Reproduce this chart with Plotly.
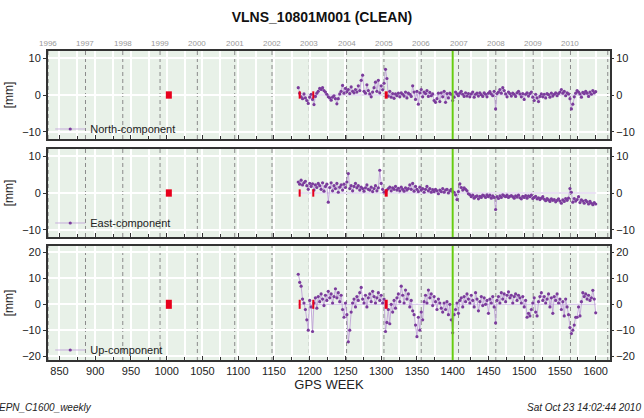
import plotly.graph_objects as go
from datetime import date

# ---------------- data ----------------
first_week = 1184
last_week = 1600
week_step = 2
weeks = list(range(first_week, last_week + 1, week_step))

north = [
    2.0, 0.5, -0.5, -1.0, 0.3, -0.8, -1.5, -2.3, -0.6, 0.2,
    -1.2, -2.6, -0.4, 0.5, 1.0, 1.8, 1.5, 2.0, 1.2, 0.8,
    0.2, -0.5, -0.8, -1.4, -0.6, -0.2, -1.0, -2.4, -1.0, 0.3,
    1.0, 2.6, 0.5, 1.8, 0.9, 1.5, 0.4, 2.2, 1.0, 0.6,
    1.5, 0.8, 2.5, 1.2, 4.0, 5.4, 1.0, 0.5, 2.8, 1.2,
    0.3, -0.5, 0.8, 2.0, 3.5, 1.0, 4.0, 0.6, 2.5, 1.4,
    3.2, 7.0, 4.5, -0.3, 1.0, -0.6, 0.4, -0.9, 0.3, -0.2,
    0.5, -0.5, 0.6, 0.2, -0.3, 0.8, -0.8, 0.5, 0.2, -0.4,
    2.5, 0.8, -1.2, 1.0, -2.5, 0.6, 1.5, -0.5, 0.8, 0.4,
    1.2, -0.4, 0.7, -0.2, 0.3, -1.5, -2.0, -1.0, 0.5, -1.8,
    0.6, -0.5, 1.0, -2.0, 0.4, -0.8, 0.5, 0.2, -1.5, -0.6,
    0.8, 0.3, -0.2, 0.5, 1.0, 0.2, -0.4, 0.6, -0.3, 0.4,
    -0.5, 0.3, 0.8, -0.6, 0.2, 0.5, -0.3, 0.6, 0.1, -0.4,
    0.6, 0.2, -0.5, 0.5, 0.9, 0.3, -0.2, 1.0, -3.8, 0.4,
    0.8, 1.5, 0.5, 2.0, 1.2, 0.3, -0.5, 0.8, 0.4, -0.3,
    0.5, 0.2, -0.4, 0.6, 1.0, 0.3, -0.5, 0.4, -1.2, 0.2,
    0.6, -0.3, 0.4, 0.8, -0.6, -1.5, 0.2, -0.8, -1.8, -0.4,
    0.3, -0.5, 0.2, -0.8, 0.4, 0.1, -0.6, 0.5, -0.3, 0.2,
    0.6, -0.2, 0.4, 0.8, 1.5, 0.5, 1.0, -0.2, 0.6, 0.3,
    -1.0, -3.8, -2.5, -0.5, 0.5, 1.2, 0.8, 0.3, -0.6, 0.7,
    0.4, 1.0, 0.5, -0.4, 0.8, 0.2, 1.2, 0.6, 0.9,
]

east = [
    3.0, 2.4, 3.5, 2.2, 2.8, 3.2, 2.0, 1.0, 2.6, 1.8,
    2.5, 0.8, 2.2, 1.5, 2.6, 2.0, 1.0, 2.8, 0.5, 1.8,
    2.4, -2.5, 1.5, 2.8, 0.6, 2.0, 1.2, 2.6, 0.2, 1.6,
    2.2, 0.8, 2.4, 1.5, 3.0, 5.3, 1.2, 2.0, 0.6, 1.8,
    2.6, 1.4, 2.0, 0.8, 1.6, 1.2, 0.5, 1.4, 2.2, 1.0,
    0.8, 1.6, 0.4, 1.2, 2.0, 0.6, 1.4, 6.2, 2.6, 1.0,
    0.2, 0.4, 0.8, 1.2, 1.6, 0.6, 1.4, 1.0, 1.8, 0.8,
    1.3, 0.6, 1.6, 1.0, 0.5, 1.4, 0.8, 1.2, 2.2, 1.0,
    2.6, 0.5, 1.8, 1.0, 0.4, 1.6, 0.8, 1.2, 0.2, 1.0,
    1.8, 0.6, 1.2, 0.2, 0.9, 0.4, 1.0, 0.6, -0.2, 0.8,
    0.4, 1.2, 0.2, 0.8, 1.0, 0.0, 0.6, 1.0, 0.4, 0.2,
    -0.5, -1.8, 0.4, 2.5, 1.5, 0.8, 1.4, 1.0, 0.6, -0.2,
    -0.5, -1.0, -0.6, -1.4, -1.0, -0.8, -1.6, -0.9, -1.2, -0.6,
    -0.8, -1.2, -0.5, -1.0, -0.6, -1.4, -0.8, -1.2, -4.5, -1.0,
    -1.5, -0.8, -1.2, -0.5, -0.8, -1.0, -0.6, -1.2, -0.9, -0.7,
    -1.0, -1.4, -0.8, -1.1, -0.6, -1.3, -1.6, -0.9, -1.2, -0.7,
    -1.4, -0.8, -1.0, -0.6, -1.5, -1.2, -0.9, -1.6, -1.3, -1.8,
    -1.4, -1.0, -1.7, -2.1, -1.5, -1.9, -2.3, -1.6, -2.0, -1.8,
    -2.4, -2.0, -1.6, -2.2, -2.8, -1.9, -2.3, -1.5, -2.0, -1.4,
    1.2, 0.2, -2.5, -1.5, -2.2, -1.8, -1.0, -2.6, -1.9, -2.2,
    -2.8, -2.0, -2.4, -3.0, -2.3, -2.8, -3.2, -2.6, -3.0,
]

up = [
    11.6, 8.5, 7.0, 2.0, 0.5, -2.0, -6.0, -10.0, 1.5, -1.0,
    -10.5, 0.5, 2.5, -1.5, 3.0, 1.0, 4.0, 2.0, -0.5, 3.5,
    1.5, 5.0, 2.5, 4.0, 0.5, 3.0, 6.0, 2.5, 4.5, 1.0,
    3.5, -2.0, -5.0, 0.5, -4.0, -14.5, -10.0, -3.0, 0.5, 2.0,
    -1.0, 3.0, 1.5, 4.5, 6.5, 2.0, 0.5, 3.5, -1.0, 2.5,
    4.0, 1.0, 5.0, 3.0, 0.5, 2.5, 4.5, 1.5, 3.5, 0.5,
    2.0, -10.5, -7.0, -2.0, -7.5, 0.0, -3.0, 1.5, -1.5, 2.5,
    4.0, 1.0, 7.0, 3.5, 0.5, 5.5, 2.0, 4.0, -1.0, 1.5,
    -2.5, -4.0, -8.0, -12.5, -5.0, -10.0, -3.0, -6.0, 1.0, 3.5,
    0.5, 5.5, 2.5, 4.0, -0.5, 3.0, 1.0, -2.0, 2.0, 0.5,
    -1.5, -3.0, 0.5, -2.0, 1.0, -4.0, 0.0, -6.0, -11.0, -4.0,
    -2.0, 0.5, -3.5, 1.5, 2.5, -1.0, 3.0, 1.0, 4.0, 2.0,
    0.5, 3.5, 1.5, -1.0, 4.5, 2.0, -2.5, 1.0, 3.0, -0.5,
    2.5, 0.0, 1.5, -3.5, 2.0, 0.5, 3.0, -1.0, -7.2, 1.5,
    3.0, 0.5, 4.5, 2.0, 4.0, 1.0, 3.5, 4.8, 2.5, 3.5,
    0.5, 3.0, 4.0, 1.5, 3.5, 2.5, 0.5, 3.0, -1.0, 1.5,
    -5.0, -3.5, -4.5, -2.0, 0.5, 2.5, -3.0, -4.5, 1.0, 3.0,
    4.5, 1.5, 3.0, 0.5, 2.0, 4.0, -1.0, 2.5, -3.5, 3.0,
    1.5, 4.0, 0.5, 2.0, -2.0, 1.0, -4.5, 2.0, -1.0, -4.0,
    -9.0, -11.3, -10.0, -8.0, -5.0, -5.0, -1.0, -4.5, 1.0, 4.5,
    3.0, 4.0, 2.0, 3.5, 1.5, 2.5, 5.4, 2.0, -3.3,
]

component_names = ["North-component", "East-component", "Up-component"]

# discontinuity / event markers (GPS week) and their half-heights in mm per panel
disc_weeks = [1003, 1186, 1205, 1307]
disc_half_height = [1.0, 1.0, 1.75]

antenna_change_week = 1400
year_labels = list(range(1996, 2011))
gps_epoch = date(1980, 1, 6)

week_tick_values = list(range(850, 1601, 50))

# ---------------- styles ----------------
FONT = "Liberation Sans, Arial, Helvetica, sans-serif"
BG = "#e8f1e8"
LINE_COL = "rgba(190,160,215,0.85)"
MARK_COL = "#7b3c9c"
RED = "#e8001c"
GREEN = "#66cc11"
DISC_W = {1003: 6, 1307: 3}

XR = [834, 1620]
YR = [[-12.0, 12.0], [-12.0, 12.0], [-21.5, 22.5]]
YT = [[-10, 0, 10], [-10, 0, 10], [-20, -10, 0, 10, 20]]
DOMAINS = [[0.7152, 1.0], [0.3981, 0.6828], [0.0, 0.3689]]
LEG_Y = [0.7476, 0.4434, 0.0324]

series = [north, east, up]

fig = go.Figure()

for i in range(3):
    xa = "x" if i == 0 else f"x{i+1}"
    ya = "y" if i == 0 else f"y{i+1}"
    yr = f"y{i+4}"
    leg = "legend" if i == 0 else f"legend{i+1}"
    # zero reference over data span
    fig.add_trace(go.Scatter(
        x=[weeks[0], weeks[-1]], y=[0, 0], mode="lines",
        line=dict(color="rgba(200,180,225,0.8)", width=1),
        xaxis=xa, yaxis=ya, showlegend=False, hoverinfo="skip"))
    fig.add_trace(go.Scatter(
        x=weeks, y=series[i], mode="lines+markers", name=component_names[i],
        line=dict(color=LINE_COL, width=1),
        marker=dict(color=MARK_COL, size=3.2),
        xaxis=xa, yaxis=ya, legend=leg))
    for w in disc_weeks:
        h = disc_half_height[i]
        fig.add_trace(go.Scatter(
            x=[w, w], y=[-h, h], mode="lines",
            line=dict(color=RED, width=DISC_W.get(w, 2)),
            xaxis=xa, yaxis=ya, showlegend=False, hoverinfo="skip"))
    # carrier for the right-hand tick labels
    fig.add_trace(go.Scatter(
        x=[weeks[0]], y=[0], mode="markers", marker=dict(opacity=0, size=1),
        xaxis=xa, yaxis=yr, showlegend=False, hoverinfo="skip"))

year_weeks = [(date(y, 1, 1) - gps_epoch).days / 7.0 for y in year_labels + [2011]]

shapes = []
for i in range(3):
    xa = "x" if i == 0 else f"x{i+1}"
    yd = "y domain" if i == 0 else f"y{i+1} domain"
    for yw in year_weeks:
        if XR[0] < yw < XR[1]:
            shapes.append(dict(type="line", xref=xa, yref=yd, x0=yw, x1=yw, y0=0, y1=1,
                               line=dict(color="#8a8a8a", width=1, dash="4px,3px"),
                               layer="below"))
    shapes.append(dict(type="line", xref=xa, yref=yd, x0=antenna_change_week,
                       x1=antenna_change_week, y0=0, y1=1,
                       line=dict(color=GREEN, width=2), layer="above"))

annotations = []
for y, yw in zip(year_labels, year_weeks):
    annotations.append(dict(x=yw, xref="x", y=1, yref="paper", yanchor="bottom",
                            yshift=1, text=str(y), showarrow=False,
                            font=dict(size=8, color="#999999", family=FONT)))
annotations.append(dict(x=-0.09, xref="paper", y=-0.155, yref="paper", xanchor="left",
                        yanchor="middle", text="<i>EPN_C1600_weekly</i>", showarrow=False,
                        font=dict(size=10, color="#222222", family=FONT)))
annotations.append(dict(x=1.058, xref="paper", y=-0.155, yref="paper", xanchor="right",
                        yanchor="middle", text="<i>Sat Oct 23 14:02:44 2010</i>",
                        showarrow=False, font=dict(size=10, color="#222222", family=FONT)))

layout = dict(
    width=644, height=418,
    margin=dict(l=48, r=34, t=51, b=58, autoexpand=False),
    paper_bgcolor="white", plot_bgcolor=BG,
    font=dict(family=FONT, color="#222222", size=11),
    title=dict(text="<b>VLNS_10801M001 (CLEAN)</b>", x=0.5, xanchor="center",
               y=1 - 17 / 418, yanchor="middle", font=dict(size=14, color="#111111")),
    shapes=shapes, annotations=annotations,
)

axis_line = dict(showline=True, linecolor="#333333", linewidth=2, mirror=True)

for i in range(3):
    xk = "xaxis" if i == 0 else f"xaxis{i+1}"
    yk = "yaxis" if i == 0 else f"yaxis{i+1}"
    ya = "y" if i == 0 else f"y{i+1}"
    xa = "x" if i == 0 else f"x{i+1}"
    layout[xk] = dict(
        domain=[0, 1], anchor=ya, range=XR, tickvals=week_tick_values,
        showticklabels=(i == 2), ticks="inside", ticklen=4, tickcolor="#333333",
        showgrid=True, gridcolor="white", gridwidth=1.5, zeroline=False,
        minor=dict(dtick=25, tick0=850, ticks="inside", ticklen=3, tickcolor="#333333",
                   showgrid=True, gridcolor="white", gridwidth=1.5),
        tickfont=dict(size=11, color="#222222"),
        **axis_line)
    if i > 0:
        layout[xk]["matches"] = "x"
    if i == 2:
        layout[xk]["title"] = dict(text="GPS WEEK", standoff=2,
                                   font=dict(size=13, color="#222222"))
    layout[yk] = dict(
        domain=DOMAINS[i], anchor=xa, range=YR[i], tickvals=YT[i],
        ticks="outside", ticklen=3, tickcolor="#333333",
        showgrid=True, gridcolor="white", gridwidth=1.5, zeroline=False,
        title=dict(text="[mm]", standoff=6, font=dict(size=12, color="#222222")),
        tickfont=dict(size=11, color="#222222"),
        **axis_line)
    rk = f"yaxis{i+4}"
    layout[rk] = dict(
        overlaying=ya, side="right", anchor=xa, range=YR[i], tickvals=YT[i],
        ticks="outside", ticklen=3, tickcolor="#333333", showgrid=False,
        zeroline=False, showline=False, tickfont=dict(size=11, color="#222222"))
    lk = "legend" if i == 0 else f"legend{i+1}"
    layout[lk] = dict(x=0.004, xanchor="left", y=LEG_Y[i], yanchor="middle",
                      bgcolor="rgba(0,0,0,0)", borderwidth=0,
                      font=dict(size=11, color="#222222"), itemwidth=30)

fig.update_layout(**layout)
fig.write_html("out.html", config={"displayModeBar": False},
               post_script="document.body.style.margin='0';document.body.style.padding='0';")
